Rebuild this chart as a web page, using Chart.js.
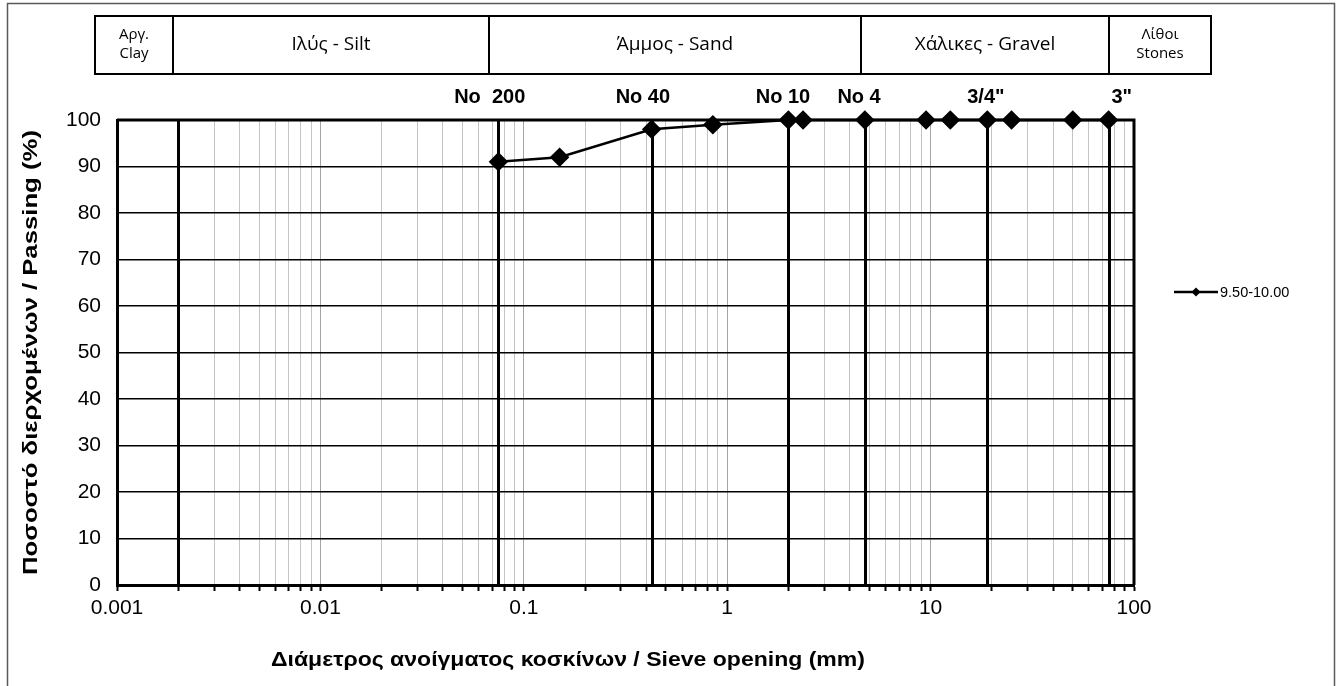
<!DOCTYPE html>
<html>
<head>
<meta charset="utf-8">
<script src="https://cdn.jsdelivr.net/npm/chart.js@4/dist/chart.umd.min.js"></script>
<style>
  html, body { margin: 0; padding: 0; background: #fff; }
  #wrap { width: 1339px; height: 686px; position: relative; }
</style>
</head>
<body>
<div id="wrap"><canvas id="grading"></canvas></div>
<script>
// sieve data (mm / % passing)
const sieveSizes = [0.075, 0.15, 0.425, 0.85, 2.0, 2.36, 4.75, 9.5, 12.5, 19, 25, 50, 75];
const passing = [91, 92, 98, 99, 100, 100, 100, 100, 100, 100, 100, 100, 100];
const seriesName = '9.50-10.00';

// thick vertical boundary lines (mm)
const boundaryLines = [0.002, 0.075, 0.425, 2.0, 4.75, 19, 75];
// sieve labels above the plot and where they sit (mm)
const sieveNames = ['No  200', 'No 40', 'No 10', 'No 4', '3/4"', '3"'];
const sieveNameAt = [0.068, 0.385, 1.88, 4.45, 18.7, 87];

// soil class table on top
const zoneNames = [['Αργ.', 'Clay'], ['Ιλύς - Silt'], ['Άμμος - Sand'], ['Χάλικες - Gravel'], ['Λίθοι', 'Stones']];

const xTitle = 'Διάμετρος ανοίγματος κοσκίνων / Sieve opening (mm)';
const yTitle = 'Ποσοστό διερχομένων / Passing (%)';

// log ticks 1..9 per decade
const xTickValues = [];
for (let e = -3; e <= 1; e++) {
    for (let m = 1; m <= 9; m++) {
        xTickValues.push(Number((m * Math.pow(10, e)).toPrecision(3)));
    }
}
xTickValues.push(100);

const isDecade = v => Math.abs(Math.log10(v) - Math.round(Math.log10(v))) < 1e-9;

// draw text stretched to a given length
function fitText(ctx, text, len) {
    const w = ctx.measureText(text).width;
    ctx.save();
    ctx.scale(len / w, 1);
    ctx.fillText(text, 0, 0);
    ctx.restore();
}

const extras = {
    id: 'extras',
    beforeDatasetsDraw(chart) {
        const {ctx, chartArea: a, scales: {x}} = chart;
        ctx.save();
        ctx.strokeStyle = '#000';
        ctx.lineWidth = 3;
        boundaryLines.forEach(v => {
            const px = Math.round(x.getPixelForValue(v)) + 0.5;
            ctx.beginPath();
            ctx.moveTo(px, a.top);
            ctx.lineTo(px, a.bottom);
            ctx.stroke();
        });
        // top + right frame of plot
        ctx.beginPath();
        ctx.moveTo(a.left, a.top);
        ctx.lineTo(a.right, a.top);
        ctx.lineTo(a.right, a.bottom);
        ctx.stroke();
        ctx.restore();
    },
    afterDraw(chart) {
        const {ctx, chartArea: a, scales: {x}} = chart;
        ctx.save();

        // outer frame
        ctx.strokeStyle = '#595959';
        ctx.lineWidth = 1.5;
        ctx.strokeRect(7.5, 3.5, 1327, 690);

        // sieve labels
        ctx.fillStyle = '#000';
        ctx.font = 'bold 20px "Liberation Sans", Arial, sans-serif';
        ctx.textAlign = 'center';
        ctx.textBaseline = 'middle';
        sieveNames.forEach((s, i) => {
            ctx.fillText(s, x.getPixelForValue(sieveNameAt[i]), 97);
        });

        // soil class table
        const cols = [95, 173, 489, 861, 1109, 1211];
        const top = 16, bottom = 74;
        ctx.strokeStyle = '#000';
        ctx.lineWidth = 2;
        ctx.strokeRect(cols[0], top, cols[5] - cols[0], bottom - top);
        for (let i = 1; i < cols.length - 1; i++) {
            ctx.beginPath();
            ctx.moveTo(cols[i], top);
            ctx.lineTo(cols[i], bottom);
            ctx.stroke();
        }
        zoneNames.forEach((lines, i) => {
            const cx = (cols[i] + cols[i + 1]) / 2;
            const cy = (top + bottom) / 2;
            if (lines.length === 1) {
                ctx.font = '19px "Open Sans", sans-serif';
                ctx.fillText(lines[0], cx, cy);
            } else {
                ctx.font = '15px "Open Sans", sans-serif';
                ctx.fillText(lines[0], cx, cy - 10);
                ctx.fillText(lines[1], cx, cy + 9);
            }
        });

        // axis titles
        ctx.font = 'bold 21px "Liberation Sans", Arial, sans-serif';
        ctx.save();
        ctx.translate(568, 660);
        fitText(ctx, xTitle, 594);
        ctx.restore();
        ctx.save();
        ctx.translate(31, (a.top + a.bottom) / 2);
        ctx.rotate(-Math.PI / 2);
        fitText(ctx, yTitle, 445);
        ctx.restore();

        // legend
        const ly = 292;
        ctx.lineWidth = 2.5;
        ctx.beginPath();
        ctx.moveTo(1174, ly);
        ctx.lineTo(1218, ly);
        ctx.stroke();
        ctx.beginPath();
        ctx.moveTo(1196, ly - 4.5);
        ctx.lineTo(1200.5, ly);
        ctx.lineTo(1196, ly + 4.5);
        ctx.lineTo(1191.5, ly);
        ctx.closePath();
        ctx.fill();
        ctx.font = '14.5px "Liberation Sans", Arial, sans-serif';
        ctx.textAlign = 'left';
        ctx.fillText(seriesName, 1220, ly + 1);

        ctx.restore();
    }
};

const ctx = document.getElementById('grading').getContext('2d');
new Chart(ctx, {
    type: 'line',
    data: {
        datasets: [{
            label: seriesName,
            data: sieveSizes.map((s, i) => ({x: s, y: passing[i]})),
            borderColor: '#000',
            backgroundColor: '#000',
            borderWidth: 2.5,
            pointStyle: 'rectRot',
            pointRadius: 8,
            pointHoverRadius: 8,
            pointBackgroundColor: '#000',
            pointBorderColor: '#000',
            tension: 0,
            clip: false
        }]
    },
    options: {
        responsive: true,
        maintainAspectRatio: false,
        animation: false,
        layout: {padding: {left: 0, top: 120, right: 205, bottom: 0}},
        plugins: {
            legend: {display: false},
            tooltip: {enabled: false}
        },
        scales: {
            x: {
                type: 'logarithmic',
                min: 0.001,
                max: 100,
                afterBuildTicks: s => { s.ticks = xTickValues.map(v => ({value: v, major: isDecade(v)})); },
                afterFit: s => { s.height = 101; },
                border: {color: '#000', width: 3},
                grid: {
                    color: c => (c.tick && isDecade(c.tick.value)) ? '#a6a6a6' : '#c4c4c4',
                    lineWidth: 1,
                    drawTicks: true,
                    tickColor: '#000',
                    tickLength: 6,
                    tickWidth: 2
                },
                ticks: {
                    autoSkip: false,
                    maxRotation: 0,
                    padding: 5,
                    color: '#000',
                    font: {family: '"Liberation Sans", Arial, sans-serif', size: 21},
                    callback: v => isDecade(v) ? String(Number(v.toPrecision(3))) : ''
                }
            },
            y: {
                min: 0,
                max: 100,
                afterFit: s => { s.width = 117; },
                border: {color: '#000', width: 3},
                grid: {color: '#000', lineWidth: 1.5, drawTicks: false},
                ticks: {
                    stepSize: 10,
                    padding: 16,
                    color: '#000',
                    font: {family: '"Liberation Sans", Arial, sans-serif', size: 21}
                }
            }
        }
    },
    plugins: [extras]
});
</script>
</body>
</html>
